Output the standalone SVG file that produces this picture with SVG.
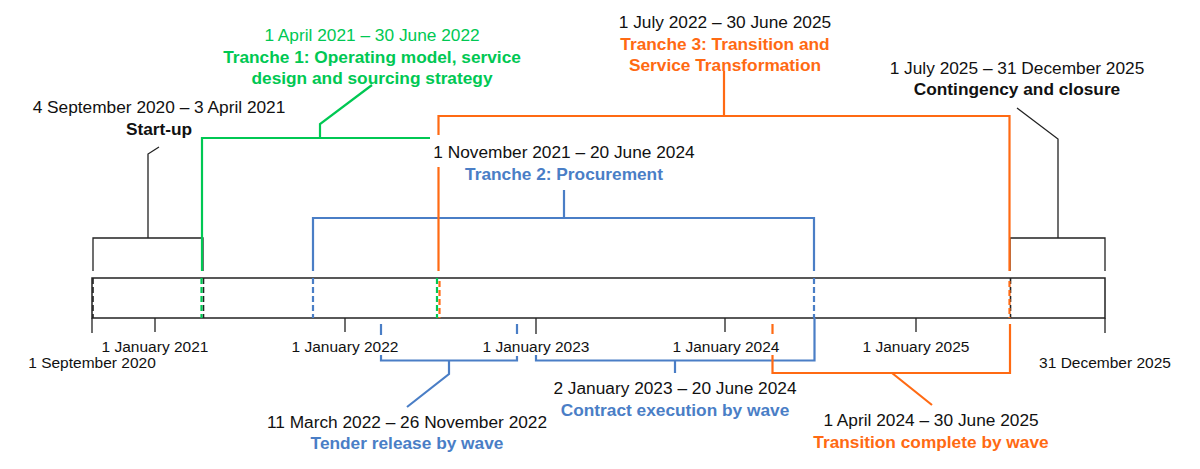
<svg xmlns="http://www.w3.org/2000/svg" width="1200" height="469" viewBox="0 0 1200 469">
<style>
text{font-family:"Liberation Sans",Arial,sans-serif;font-size:17.3px;text-anchor:middle;fill:#111}
.ax{font-size:15.5px}
.b{font-weight:bold}
.tg{fill:#00C853}
.to{fill:#FF6A13}
.tb{fill:#4A7EC6}
.k{stroke:#222;stroke-width:1.3;fill:none}
.g{stroke:#00C853;stroke-width:2.2;fill:none}
.o{stroke:#FF6A13;stroke-width:2.2;fill:none}
.bl{stroke:#4A7EC6;stroke-width:2.2;fill:none}
.d{stroke-dasharray:6 3}
.dk{stroke:#222;stroke-width:1.6;fill:none;stroke-dasharray:6 3}
</style>
<rect width="1200" height="469" fill="#fff"/>

<g id="timeline">
<rect x="92" y="278" width="1013" height="40" fill="#fff" stroke="#222" stroke-width="1.5"/>
<path class="k" d="M92,318V333M155,318V332M345,318V332M536,318V334M725,318V332M916,318V332M1105,318V333"/>
<path class="dk" d="M93,278V318M203.5,278V318M1010.5,278V318"/>
<text class="ax" x="155" y="352">1 January 2021</text>
<text class="ax" x="345" y="352">1 January 2022</text>
<text class="ax" x="536" y="352">1 January 2023</text>
<text class="ax" x="726" y="352">1 January 2024</text>
<text class="ax" x="916" y="352">1 January 2025</text>
<text class="ax" x="92" y="367.5">1 September 2020</text>
<text class="ax" x="1105" y="367.5">31 December 2025</text>
</g>

<g id="connectors">
<!-- Start-up bracket -->
<path class="k" d="M93,271V238H203V271M148,238V154L159,147"/>
<!-- Contingency bracket -->
<path class="k" d="M1010,271V238H1105V271M1058,238V139L1017,108"/>
<!-- Tranche 2 blue -->
<path class="bl" d="M313,271V218H814V271M564,218V190"/>
<path class="bl d" d="M313,278V318M814,278V318"/>
<!-- Tranche 1 green -->
<path class="g" d="M202,271V138H430M320,138V124L372,85"/>
<path class="g d" d="M201.5,278V318M437,278V318"/>
<!-- Tranche 3 orange -->
<path class="o" d="M438.5,135V116H1009.5V271M438.5,167V271M724,116V71"/>
<path class="o d" d="M439.5,281V318M1009.5,281V318"/>
<!-- Tender release -->
<path class="bl" d="M381,324V335M381,355V360.5H517V356M517,324V334M449,360.5V374L407,407"/>
<!-- Contract execution -->
<path class="bl" d="M536,355V360.5H814.5V318M675,360.5V373"/>
<!-- Transition complete -->
<path class="o" d="M772.5,324V334M772.5,355V373H1010V324M892,373L932,405"/>
</g>

<g id="startup">
<text x="159" y="113">4 September 2020 – 3 April 2021</text>
<text class="b" x="159" y="135">Start-up</text>
</g>
<g id="tranche1">
<text class="tg" x="372" y="41">1 April 2021 – 30 June 2022</text>
<text class="b tg" x="372" y="63">Tranche 1: Operating model, service</text>
<text class="b tg" x="372" y="83.5">design and sourcing strategy</text>
</g>
<g id="tranche3">
<text x="725" y="28">1 July 2022 – 30 June 2025</text>
<text class="b to" x="725" y="50">Tranche 3: Transition and</text>
<text class="b to" x="725" y="70.5">Service Transformation</text>
</g>
<g id="tranche2">
<text x="564" y="158">1 November 2021 – 20 June 2024</text>
<text class="b tb" x="564" y="180">Tranche 2: Procurement</text>
</g>
<g id="contingency">
<text x="1017" y="74">1 July 2025 – 31 December 2025</text>
<text class="b" x="1017" y="95">Contingency and closure</text>
</g>
<g id="tender">
<text x="407" y="428">11 March 2022 – 26 November 2022</text>
<text class="b tb" x="407" y="449">Tender release by wave</text>
</g>
<g id="contract">
<text x="675" y="394">2 January 2023 – 20 June 2024</text>
<text class="b tb" x="675" y="416">Contract execution by wave</text>
</g>
<g id="transition">
<text x="931" y="426">1 April 2024 – 30 June 2025</text>
<text class="b to" x="931" y="448">Transition complete by wave</text>
</g>
</svg>
